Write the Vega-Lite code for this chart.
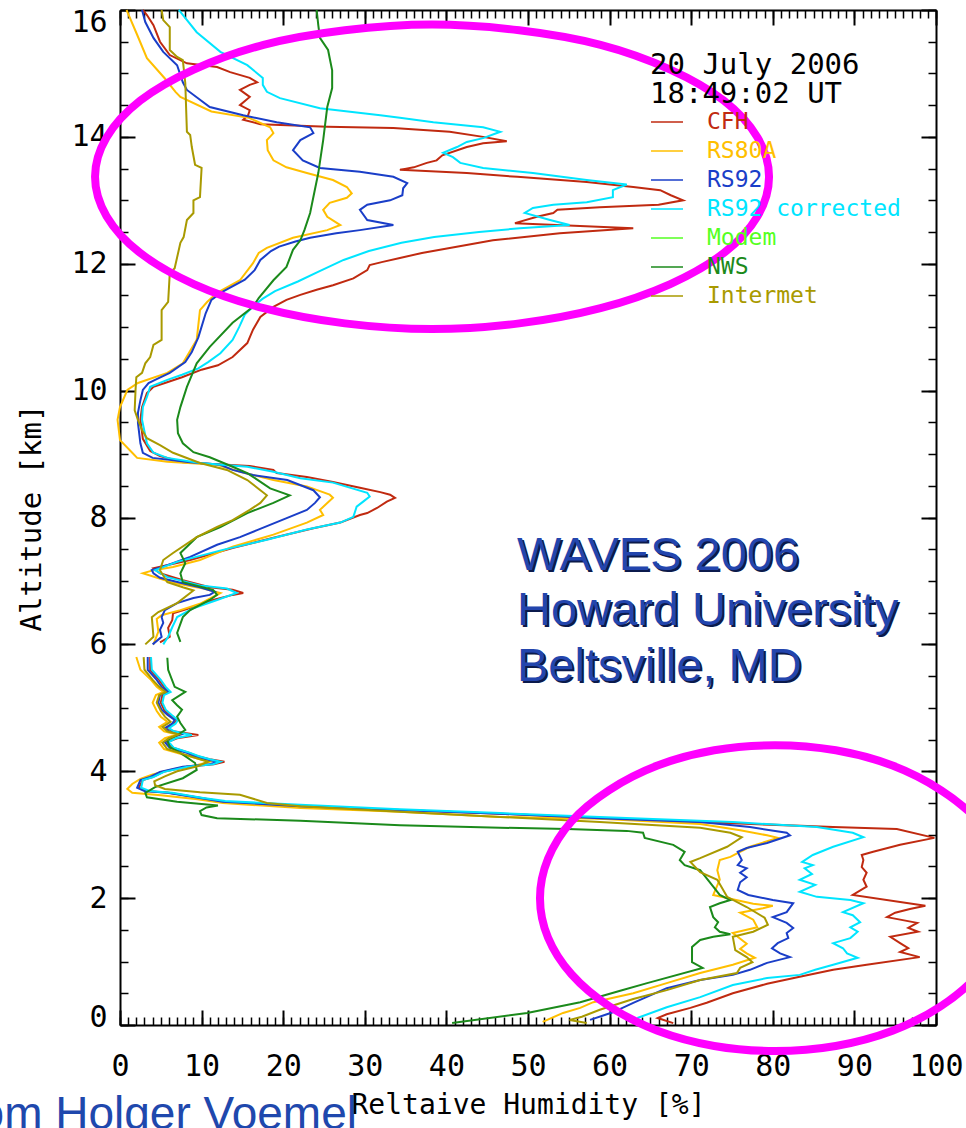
{
  "$schema": "https://vega.github.io/schema/vega-lite/v6.json",
  "width": 816,
  "height": 1015,
  "autosize": {"type": "none"},
  "padding": {"left": 120, "top": 10, "right": 30, "bottom": 103},
  "background": "white",
  "config": {"view": {"stroke": null}, "axis": {"grid": false}},
  "datasets": {
    "profiles": [
      {"s":"CFH","g":1,"z":0.03,"h":67.8},{"s":"CFH","g":1,"z":0.11,"h":65.9},{"s":"CFH","g":1,"z":0.17,"h":67.0},{"s":"CFH","g":1,"z":0.27,"h":69.9},{"s":"CFH","g":1,"z":0.35,"h":71.9},{"s":"CFH","g":1,"z":0.50,"h":75.1},{"s":"CFH","g":1,"z":0.65,"h":79.3},{"s":"CFH","g":1,"z":0.76,"h":83.3},{"s":"CFH","g":1,"z":0.87,"h":87.4},{"s":"CFH","g":1,"z":0.95,"h":91.5},{"s":"CFH","g":1,"z":1.07,"h":98.0},{"s":"CFH","g":1,"z":1.15,"h":95.6},{"s":"CFH","g":1,"z":1.21,"h":96.6},{"s":"CFH","g":1,"z":1.29,"h":95.6},{"s":"CFH","g":1,"z":1.39,"h":94.4},{"s":"CFH","g":1,"z":1.47,"h":97.8},{"s":"CFH","g":1,"z":1.53,"h":96.6},{"s":"CFH","g":1,"z":1.61,"h":97.7},{"s":"CFH","g":1,"z":1.70,"h":94.0},{"s":"CFH","g":1,"z":1.77,"h":95.0},{"s":"CFH","g":1,"z":1.83,"h":96.8},{"s":"CFH","g":1,"z":1.88,"h":98.7},{"s":"CFH","g":1,"z":2.05,"h":89.8},{"s":"CFH","g":1,"z":2.18,"h":91.5},{"s":"CFH","g":1,"z":2.29,"h":91.1},{"s":"CFH","g":1,"z":2.40,"h":91.5},{"s":"CFH","g":1,"z":2.49,"h":90.9},{"s":"CFH","g":1,"z":2.60,"h":91.1},{"s":"CFH","g":1,"z":2.68,"h":90.9},{"s":"CFH","g":1,"z":2.73,"h":92.3},{"s":"CFH","g":1,"z":2.84,"h":95.6},{"s":"CFH","g":1,"z":2.95,"h":99.8},{"s":"CFH","g":1,"z":3.09,"h":95.2},{"s":"CFH","g":1,"z":3.12,"h":87.4},{"s":"CFH","g":1,"z":3.18,"h":75.1},{"s":"CFH","g":1,"z":3.26,"h":58.8},{"s":"CFH","g":1,"z":3.33,"h":46.6},{"s":"CFH","g":1,"z":3.39,"h":34.3},{"s":"CFH","g":1,"z":3.45,"h":22.1},{"s":"CFH","g":1,"z":3.52,"h":12.7},{"s":"CFH","g":1,"z":3.58,"h":10.0},{"s":"CFH","g":1,"z":3.66,"h":6.0},{"s":"CFH","g":1,"z":3.69,"h":3.2},{"s":"CFH","g":1,"z":3.74,"h":2.3},{"s":"CFH","g":1,"z":3.86,"h":2.8},{"s":"CFH","g":1,"z":3.91,"h":4.0},{"s":"CFH","g":1,"z":3.99,"h":5.3},{"s":"CFH","g":1,"z":4.07,"h":8.2},{"s":"CFH","g":1,"z":4.11,"h":11.5},{"s":"CFH","g":1,"z":4.15,"h":12.8},{"s":"CFH","g":1,"z":4.19,"h":11.0},{"s":"CFH","g":1,"z":4.24,"h":9.4},{"s":"CFH","g":1,"z":4.29,"h":8.5},{"s":"CFH","g":1,"z":4.37,"h":6.5},{"s":"CFH","g":1,"z":4.46,"h":5.8},{"s":"CFH","g":1,"z":4.52,"h":7.0},{"s":"CFH","g":1,"z":4.57,"h":9.6},{"s":"CFH","g":1,"z":4.63,"h":6.5},{"s":"CFH","g":1,"z":4.68,"h":5.8},{"s":"CFH","g":1,"z":4.75,"h":6.6},{"s":"CFH","g":1,"z":4.81,"h":7.0},{"s":"CFH","g":1,"z":4.89,"h":6.1},{"s":"CFH","g":1,"z":4.97,"h":5.4},{"s":"CFH","g":1,"z":5.08,"h":5.0},{"s":"CFH","g":1,"z":5.20,"h":5.2},{"s":"CFH","g":1,"z":5.25,"h":6.0},{"s":"CFH","g":1,"z":5.33,"h":5.4},{"s":"CFH","g":1,"z":5.44,"h":4.8},{"s":"CFH","g":1,"z":5.60,"h":3.7},{"s":"CFH","g":1,"z":5.80,"h":3.7},
      {"s":"CFH","g":2,"z":6.03,"h":4.9},{"s":"CFH","g":2,"z":6.12,"h":6.1},{"s":"CFH","g":2,"z":6.26,"h":5.9},{"s":"CFH","g":2,"z":6.38,"h":6.4},{"s":"CFH","g":2,"z":6.49,"h":6.5},{"s":"CFH","g":2,"z":6.59,"h":9.0},{"s":"CFH","g":2,"z":6.70,"h":11.4},{"s":"CFH","g":2,"z":6.78,"h":13.8},{"s":"CFH","g":2,"z":6.81,"h":15.1},{"s":"CFH","g":2,"z":6.86,"h":13.8},{"s":"CFH","g":2,"z":6.90,"h":11.0},{"s":"CFH","g":2,"z":7.01,"h":7.7},{"s":"CFH","g":2,"z":7.12,"h":4.9},{"s":"CFH","g":2,"z":7.20,"h":4.1},{"s":"CFH","g":2,"z":7.33,"h":8.6},{"s":"CFH","g":2,"z":7.52,"h":13.8},{"s":"CFH","g":2,"z":7.68,"h":18.8},{"s":"CFH","g":2,"z":7.83,"h":23.7},{"s":"CFH","g":2,"z":7.92,"h":27.0},{"s":"CFH","g":2,"z":8.04,"h":29.4},{"s":"CFH","g":2,"z":8.07,"h":30.3},{"s":"CFH","g":2,"z":8.15,"h":31.5},{"s":"CFH","g":2,"z":8.25,"h":32.7},{"s":"CFH","g":2,"z":8.31,"h":33.7},{"s":"CFH","g":2,"z":8.36,"h":33.1},{"s":"CFH","g":2,"z":8.40,"h":31.9},{"s":"CFH","g":2,"z":8.47,"h":29.4},{"s":"CFH","g":2,"z":8.56,"h":26.1},{"s":"CFH","g":2,"z":8.64,"h":22.9},{"s":"CFH","g":2,"z":8.70,"h":19.2},{"s":"CFH","g":2,"z":8.75,"h":18.8},{"s":"CFH","g":2,"z":8.81,"h":15.9},{"s":"CFH","g":2,"z":8.84,"h":11.9},{"s":"CFH","g":2,"z":8.87,"h":7.7},{"s":"CFH","g":2,"z":8.97,"h":4.9},{"s":"CFH","g":2,"z":9.05,"h":3.7},{"s":"CFH","g":2,"z":9.24,"h":2.8},{"s":"CFH","g":2,"z":9.54,"h":2.5},{"s":"CFH","g":2,"z":9.74,"h":2.7},{"s":"CFH","g":2,"z":9.96,"h":3.3},{"s":"CFH","g":2,"z":10.06,"h":4.1},{"s":"CFH","g":2,"z":10.12,"h":5.5},{"s":"CFH","g":2,"z":10.21,"h":7.6},{"s":"CFH","g":2,"z":10.33,"h":10.0},{"s":"CFH","g":2,"z":10.40,"h":12.0},{"s":"CFH","g":2,"z":10.53,"h":13.8},{"s":"CFH","g":2,"z":10.75,"h":15.6},{"s":"CFH","g":2,"z":10.96,"h":16.3},{"s":"CFH","g":2,"z":11.16,"h":17.2},{"s":"CFH","g":2,"z":11.32,"h":18.8},{"s":"CFH","g":2,"z":11.43,"h":20.4},{"s":"CFH","g":2,"z":11.51,"h":22.1},{"s":"CFH","g":2,"z":11.59,"h":24.1},{"s":"CFH","g":2,"z":11.66,"h":26.1},{"s":"CFH","g":2,"z":11.77,"h":28.6},{"s":"CFH","g":2,"z":11.90,"h":30.3},{"s":"CFH","g":2,"z":11.98,"h":30.6},{"s":"CFH","g":2,"z":12.03,"h":32.2},{"s":"CFH","g":2,"z":12.09,"h":34.3},{"s":"CFH","g":2,"z":12.17,"h":37.0},{"s":"CFH","g":2,"z":12.37,"h":45.7},{"s":"CFH","g":2,"z":12.48,"h":53.9},{"s":"CFH","g":2,"z":12.56,"h":62.9},{"s":"CFH","g":2,"z":12.64,"h":48.4},{"s":"CFH","g":2,"z":12.74,"h":51.1},{"s":"CFH","g":2,"z":12.80,"h":53.1},{"s":"CFH","g":2,"z":12.85,"h":53.6},{"s":"CFH","g":2,"z":12.89,"h":58.8},{"s":"CFH","g":2,"z":12.93,"h":66.0},{"s":"CFH","g":2,"z":13.00,"h":69.0},{"s":"CFH","g":2,"z":13.08,"h":67.5},{"s":"CFH","g":2,"z":13.16,"h":66.2},{"s":"CFH","g":2,"z":13.21,"h":62.9},{"s":"CFH","g":2,"z":13.29,"h":57.2},{"s":"CFH","g":2,"z":13.37,"h":48.7},{"s":"CFH","g":2,"z":13.43,"h":42.5},{"s":"CFH","g":2,"z":13.48,"h":34.3},{"s":"CFH","g":2,"z":13.52,"h":36.0},{"s":"CFH","g":2,"z":13.59,"h":37.6},{"s":"CFH","g":2,"z":13.63,"h":38.8},{"s":"CFH","g":2,"z":13.71,"h":39.5},{"s":"CFH","g":2,"z":13.84,"h":42.5},{"s":"CFH","g":2,"z":13.90,"h":44.5},{"s":"CFH","g":2,"z":13.93,"h":47.4},{"s":"CFH","g":2,"z":14.00,"h":44.5},{"s":"CFH","g":2,"z":14.08,"h":40.4},{"s":"CFH","g":2,"z":14.14,"h":33.5},{"s":"CFH","g":2,"z":14.16,"h":25.4},{"s":"CFH","g":2,"z":14.20,"h":17.2},{"s":"CFH","g":2,"z":14.27,"h":15.1},{"s":"CFH","g":2,"z":14.34,"h":15.7},{"s":"CFH","g":2,"z":14.42,"h":15.9},{"s":"CFH","g":2,"z":14.50,"h":14.7},{"s":"CFH","g":2,"z":14.63,"h":15.9},{"s":"CFH","g":2,"z":14.74,"h":14.7},{"s":"CFH","g":2,"z":14.82,"h":15.9},{"s":"CFH","g":2,"z":14.86,"h":16.8},{"s":"CFH","g":2,"z":14.93,"h":15.9},{"s":"CFH","g":2,"z":15.02,"h":13.5},{"s":"CFH","g":2,"z":15.10,"h":11.9},{"s":"CFH","g":2,"z":15.16,"h":8.2},{"s":"CFH","g":2,"z":15.29,"h":6.1},{"s":"CFH","g":2,"z":15.50,"h":4.9},{"s":"CFH","g":2,"z":15.76,"h":4.1},{"s":"CFH","g":2,"z":15.92,"h":3.3},{"s":"CFH","g":2,"z":16.00,"h":2.8},

      {"s":"RS80A","g":1,"z":0.05,"h":51.8},{"s":"RS80A","g":1,"z":0.19,"h":54.3},{"s":"RS80A","g":1,"z":0.27,"h":56.4},{"s":"RS80A","g":1,"z":0.36,"h":58.0},{"s":"RS80A","g":1,"z":0.50,"h":62.9},{"s":"RS80A","g":1,"z":0.66,"h":67.0},{"s":"RS80A","g":1,"z":0.82,"h":71.1},{"s":"RS80A","g":1,"z":0.95,"h":75.1},{"s":"RS80A","g":1,"z":1.06,"h":77.8},{"s":"RS80A","g":1,"z":1.13,"h":76.8},{"s":"RS80A","g":1,"z":1.20,"h":76.0},{"s":"RS80A","g":1,"z":1.28,"h":76.8},{"s":"RS80A","g":1,"z":1.45,"h":75.1},{"s":"RS80A","g":1,"z":1.50,"h":76.8},{"s":"RS80A","g":1,"z":1.54,"h":78.1},{"s":"RS80A","g":1,"z":1.66,"h":77.6},{"s":"RS80A","g":1,"z":1.77,"h":76.0},{"s":"RS80A","g":1,"z":1.84,"h":78.8},{"s":"RS80A","g":1,"z":1.88,"h":80.0},{"s":"RS80A","g":1,"z":1.91,"h":77.6},{"s":"RS80A","g":1,"z":2.05,"h":72.7},{"s":"RS80A","g":1,"z":2.29,"h":73.5},{"s":"RS80A","g":1,"z":2.44,"h":73.2},{"s":"RS80A","g":1,"z":2.60,"h":73.5},{"s":"RS80A","g":1,"z":2.65,"h":74.8},{"s":"RS80A","g":1,"z":2.81,"h":77.2},{"s":"RS80A","g":1,"z":2.95,"h":80.6},{"s":"RS80A","g":1,"z":2.99,"h":79.3},{"s":"RS80A","g":1,"z":3.07,"h":76.0},{"s":"RS80A","g":1,"z":3.17,"h":71.1},{"s":"RS80A","g":1,"z":3.25,"h":58.8},{"s":"RS80A","g":1,"z":3.28,"h":46.6},{"s":"RS80A","g":1,"z":3.36,"h":34.3},{"s":"RS80A","g":1,"z":3.42,"h":22.1},{"s":"RS80A","g":1,"z":3.50,"h":12.6},{"s":"RS80A","g":1,"z":3.56,"h":9.5},{"s":"RS80A","g":1,"z":3.62,"h":5.0},{"s":"RS80A","g":1,"z":3.66,"h":1.5},{"s":"RS80A","g":1,"z":3.72,"h":0.9},{"s":"RS80A","g":1,"z":3.80,"h":1.5},{"s":"RS80A","g":1,"z":3.88,"h":2.5},{"s":"RS80A","g":1,"z":3.95,"h":4.0},{"s":"RS80A","g":1,"z":4.03,"h":6.5},{"s":"RS80A","g":1,"z":4.10,"h":9.5},{"s":"RS80A","g":1,"z":4.15,"h":11.0},{"s":"RS80A","g":1,"z":4.20,"h":9.5},{"s":"RS80A","g":1,"z":4.27,"h":7.5},{"s":"RS80A","g":1,"z":4.35,"h":5.4},{"s":"RS80A","g":1,"z":4.45,"h":4.8},{"s":"RS80A","g":1,"z":4.52,"h":5.5},{"s":"RS80A","g":1,"z":4.58,"h":7.0},{"s":"RS80A","g":1,"z":4.63,"h":5.4},{"s":"RS80A","g":1,"z":4.70,"h":4.8},{"s":"RS80A","g":1,"z":4.78,"h":5.8},{"s":"RS80A","g":1,"z":4.86,"h":5.0},{"s":"RS80A","g":1,"z":4.95,"h":4.5},{"s":"RS80A","g":1,"z":5.08,"h":4.0},{"s":"RS80A","g":1,"z":5.20,"h":4.4},{"s":"RS80A","g":1,"z":5.25,"h":5.3},{"s":"RS80A","g":1,"z":5.33,"h":4.5},{"s":"RS80A","g":1,"z":5.44,"h":3.8},{"s":"RS80A","g":1,"z":5.60,"h":2.5},{"s":"RS80A","g":1,"z":5.80,"h":2.0},
      {"s":"RS80A","g":2,"z":6.00,"h":4.1},{"s":"RS80A","g":2,"z":6.20,"h":4.7},{"s":"RS80A","g":2,"z":6.40,"h":4.5},{"s":"RS80A","g":2,"z":6.46,"h":5.1},{"s":"RS80A","g":2,"z":6.54,"h":7.4},{"s":"RS80A","g":2,"z":6.64,"h":9.8},{"s":"RS80A","g":2,"z":6.81,"h":12.3},{"s":"RS80A","g":2,"z":6.88,"h":10.2},{"s":"RS80A","g":2,"z":6.97,"h":6.5},{"s":"RS80A","g":2,"z":7.12,"h":2.8},{"s":"RS80A","g":2,"z":7.17,"h":4.1},{"s":"RS80A","g":2,"z":7.22,"h":6.5},{"s":"RS80A","g":2,"z":7.33,"h":9.8},{"s":"RS80A","g":2,"z":7.54,"h":13.8},{"s":"RS80A","g":2,"z":7.73,"h":18.8},{"s":"RS80A","g":2,"z":7.92,"h":22.9},{"s":"RS80A","g":2,"z":8.04,"h":24.9},{"s":"RS80A","g":2,"z":8.12,"h":24.5},{"s":"RS80A","g":2,"z":8.23,"h":25.4},{"s":"RS80A","g":2,"z":8.31,"h":26.1},{"s":"RS80A","g":2,"z":8.36,"h":25.7},{"s":"RS80A","g":2,"z":8.49,"h":22.9},{"s":"RS80A","g":2,"z":8.59,"h":18.8},{"s":"RS80A","g":2,"z":8.72,"h":14.7},{"s":"RS80A","g":2,"z":8.83,"h":11.9},{"s":"RS80A","g":2,"z":8.88,"h":5.8},{"s":"RS80A","g":2,"z":8.94,"h":2.1},{"s":"RS80A","g":2,"z":9.02,"h":1.5},{"s":"RS80A","g":2,"z":9.22,"h":0.0},{"s":"RS80A","g":2,"z":9.54,"h":-0.3},{"s":"RS80A","g":2,"z":9.74,"h":0.0},{"s":"RS80A","g":2,"z":10.01,"h":0.9},{"s":"RS80A","g":2,"z":10.12,"h":2.2},{"s":"RS80A","g":2,"z":10.28,"h":5.8},{"s":"RS80A","g":2,"z":10.43,"h":7.7},{"s":"RS80A","g":2,"z":10.80,"h":9.4},{"s":"RS80A","g":2,"z":11.27,"h":9.8},{"s":"RS80A","g":2,"z":11.40,"h":10.7},{"s":"RS80A","g":2,"z":11.54,"h":11.9},{"s":"RS80A","g":2,"z":11.74,"h":14.7},{"s":"RS80A","g":2,"z":12.01,"h":16.3},{"s":"RS80A","g":2,"z":12.17,"h":17.0},{"s":"RS80A","g":2,"z":12.25,"h":18.0},{"s":"RS80A","g":2,"z":12.41,"h":21.2},{"s":"RS80A","g":2,"z":12.53,"h":25.4},{"s":"RS80A","g":2,"z":12.61,"h":27.0},{"s":"RS80A","g":2,"z":12.74,"h":25.4},{"s":"RS80A","g":2,"z":12.85,"h":24.9},{"s":"RS80A","g":2,"z":12.96,"h":25.7},{"s":"RS80A","g":2,"z":13.04,"h":27.8},{"s":"RS80A","g":2,"z":13.11,"h":28.4},{"s":"RS80A","g":2,"z":13.21,"h":27.8},{"s":"RS80A","g":2,"z":13.32,"h":26.1},{"s":"RS80A","g":2,"z":13.43,"h":22.9},{"s":"RS80A","g":2,"z":13.52,"h":20.4},{"s":"RS80A","g":2,"z":13.63,"h":18.8},{"s":"RS80A","g":2,"z":13.79,"h":18.1},{"s":"RS80A","g":2,"z":13.95,"h":18.0},{"s":"RS80A","g":2,"z":14.06,"h":18.8},{"s":"RS80A","g":2,"z":14.15,"h":18.4},{"s":"RS80A","g":2,"z":14.30,"h":15.8},{"s":"RS80A","g":2,"z":14.40,"h":11.2},{"s":"RS80A","g":2,"z":14.63,"h":7.4},{"s":"RS80A","g":2,"z":14.71,"h":6.8},{"s":"RS80A","g":2,"z":14.92,"h":5.5},{"s":"RS80A","g":2,"z":15.24,"h":3.3},{"s":"RS80A","g":2,"z":15.61,"h":2.1},{"s":"RS80A","g":2,"z":15.97,"h":0.9},{"s":"RS80A","g":2,"z":16.00,"h":0.8},

      {"s":"RS92","g":1,"z":0.08,"h":57.6},{"s":"RS92","g":1,"z":0.20,"h":60.4},{"s":"RS92","g":1,"z":0.35,"h":62.9},{"s":"RS92","g":1,"z":0.58,"h":67.0},{"s":"RS92","g":1,"z":0.71,"h":71.1},{"s":"RS92","g":1,"z":0.79,"h":75.1},{"s":"RS92","g":1,"z":0.87,"h":77.2},{"s":"RS92","g":1,"z":0.98,"h":79.3},{"s":"RS92","g":1,"z":1.07,"h":82.1},{"s":"RS92","g":1,"z":1.13,"h":80.9},{"s":"RS92","g":1,"z":1.21,"h":79.9},{"s":"RS92","g":1,"z":1.29,"h":80.6},{"s":"RS92","g":1,"z":1.37,"h":81.9},{"s":"RS92","g":1,"z":1.45,"h":81.7},{"s":"RS92","g":1,"z":1.53,"h":82.5},{"s":"RS92","g":1,"z":1.61,"h":81.7},{"s":"RS92","g":1,"z":1.70,"h":80.0},{"s":"RS92","g":1,"z":1.78,"h":81.7},{"s":"RS92","g":1,"z":1.92,"h":82.5},{"s":"RS92","g":1,"z":1.97,"h":80.0},{"s":"RS92","g":1,"z":2.05,"h":77.0},{"s":"RS92","g":1,"z":2.13,"h":75.7},{"s":"RS92","g":1,"z":2.25,"h":76.0},{"s":"RS92","g":1,"z":2.33,"h":76.8},{"s":"RS92","g":1,"z":2.40,"h":76.0},{"s":"RS92","g":1,"z":2.47,"h":76.8},{"s":"RS92","g":1,"z":2.52,"h":75.7},{"s":"RS92","g":1,"z":2.60,"h":76.2},{"s":"RS92","g":1,"z":2.73,"h":75.7},{"s":"RS92","g":1,"z":2.79,"h":76.8},{"s":"RS92","g":1,"z":2.87,"h":79.3},{"s":"RS92","g":1,"z":2.99,"h":82.1},{"s":"RS92","g":1,"z":3.03,"h":81.7},{"s":"RS92","g":1,"z":3.12,"h":77.2},{"s":"RS92","g":1,"z":3.20,"h":71.1},{"s":"RS92","g":1,"z":3.26,"h":58.8},{"s":"RS92","g":1,"z":3.33,"h":46.6},{"s":"RS92","g":1,"z":3.39,"h":34.3},{"s":"RS92","g":1,"z":3.45,"h":22.1},{"s":"RS92","g":1,"z":3.52,"h":12.6},{"s":"RS92","g":1,"z":3.58,"h":9.8},{"s":"RS92","g":1,"z":3.66,"h":5.8},{"s":"RS92","g":1,"z":3.69,"h":3.0},{"s":"RS92","g":1,"z":3.74,"h":2.1},{"s":"RS92","g":1,"z":3.86,"h":2.5},{"s":"RS92","g":1,"z":3.91,"h":3.7},{"s":"RS92","g":1,"z":3.99,"h":4.9},{"s":"RS92","g":1,"z":4.07,"h":7.7},{"s":"RS92","g":1,"z":4.11,"h":11.0},{"s":"RS92","g":1,"z":4.15,"h":12.0},{"s":"RS92","g":1,"z":4.19,"h":10.5},{"s":"RS92","g":1,"z":4.24,"h":9.0},{"s":"RS92","g":1,"z":4.29,"h":8.2},{"s":"RS92","g":1,"z":4.37,"h":6.1},{"s":"RS92","g":1,"z":4.46,"h":5.5},{"s":"RS92","g":1,"z":4.52,"h":6.1},{"s":"RS92","g":1,"z":4.58,"h":7.5},{"s":"RS92","g":1,"z":4.63,"h":6.0},{"s":"RS92","g":1,"z":4.68,"h":5.5},{"s":"RS92","g":1,"z":4.75,"h":6.4},{"s":"RS92","g":1,"z":4.81,"h":6.7},{"s":"RS92","g":1,"z":4.89,"h":5.8},{"s":"RS92","g":1,"z":4.97,"h":5.1},{"s":"RS92","g":1,"z":5.08,"h":4.7},{"s":"RS92","g":1,"z":5.20,"h":4.9},{"s":"RS92","g":1,"z":5.25,"h":5.9},{"s":"RS92","g":1,"z":5.33,"h":5.1},{"s":"RS92","g":1,"z":5.44,"h":4.5},{"s":"RS92","g":1,"z":5.60,"h":3.4},{"s":"RS92","g":1,"z":5.80,"h":3.4},
      {"s":"RS92","g":2,"z":6.00,"h":4.0},{"s":"RS92","g":2,"z":6.12,"h":5.1},{"s":"RS92","g":2,"z":6.23,"h":4.9},{"s":"RS92","g":2,"z":6.34,"h":5.3},{"s":"RS92","g":2,"z":6.43,"h":5.1},{"s":"RS92","g":2,"z":6.54,"h":5.5},{"s":"RS92","g":2,"z":6.65,"h":7.0},{"s":"RS92","g":2,"z":6.73,"h":9.0},{"s":"RS92","g":2,"z":6.78,"h":11.0},{"s":"RS92","g":2,"z":6.83,"h":11.6},{"s":"RS92","g":2,"z":6.90,"h":9.8},{"s":"RS92","g":2,"z":6.97,"h":7.4},{"s":"RS92","g":2,"z":7.05,"h":4.9},{"s":"RS92","g":2,"z":7.12,"h":4.1},{"s":"RS92","g":2,"z":7.17,"h":3.9},{"s":"RS92","g":2,"z":7.25,"h":5.8},{"s":"RS92","g":2,"z":7.38,"h":8.6},{"s":"RS92","g":2,"z":7.57,"h":11.9},{"s":"RS92","g":2,"z":7.69,"h":14.7},{"s":"RS92","g":2,"z":7.80,"h":16.8},{"s":"RS92","g":2,"z":8.01,"h":20.8},{"s":"RS92","g":2,"z":8.12,"h":22.9},{"s":"RS92","g":2,"z":8.23,"h":23.9},{"s":"RS92","g":2,"z":8.32,"h":24.5},{"s":"RS92","g":2,"z":8.43,"h":23.7},{"s":"RS92","g":2,"z":8.59,"h":20.5},{"s":"RS92","g":2,"z":8.67,"h":16.3},{"s":"RS92","g":2,"z":8.75,"h":13.8},{"s":"RS92","g":2,"z":8.83,"h":12.3},{"s":"RS92","g":2,"z":8.87,"h":8.6},{"s":"RS92","g":2,"z":8.94,"h":4.0},{"s":"RS92","g":2,"z":9.02,"h":2.8},{"s":"RS92","g":2,"z":9.17,"h":2.5},{"s":"RS92","g":2,"z":9.49,"h":2.2},{"s":"RS92","g":2,"z":9.65,"h":2.2},{"s":"RS92","g":2,"z":9.85,"h":2.5},{"s":"RS92","g":2,"z":10.01,"h":2.8},{"s":"RS92","g":2,"z":10.12,"h":3.5},{"s":"RS92","g":2,"z":10.17,"h":4.3},{"s":"RS92","g":2,"z":10.28,"h":6.1},{"s":"RS92","g":2,"z":10.45,"h":8.0},{"s":"RS92","g":2,"z":10.61,"h":8.8},{"s":"RS92","g":2,"z":10.84,"h":9.6},{"s":"RS92","g":2,"z":11.22,"h":10.5},{"s":"RS92","g":2,"z":11.43,"h":11.2},{"s":"RS92","g":2,"z":11.57,"h":12.7},{"s":"RS92","g":2,"z":11.75,"h":15.3},{"s":"RS92","g":2,"z":11.90,"h":16.5},{"s":"RS92","g":2,"z":12.06,"h":17.2},{"s":"RS92","g":2,"z":12.20,"h":18.5},{"s":"RS92","g":2,"z":12.27,"h":19.5},{"s":"RS92","g":2,"z":12.35,"h":21.5},{"s":"RS92","g":2,"z":12.41,"h":23.3},{"s":"RS92","g":2,"z":12.48,"h":26.5},{"s":"RS92","g":2,"z":12.53,"h":29.4},{"s":"RS92","g":2,"z":12.61,"h":33.5},{"s":"RS92","g":2,"z":12.69,"h":30.3},{"s":"RS92","g":2,"z":12.85,"h":29.4},{"s":"RS92","g":2,"z":12.93,"h":30.3},{"s":"RS92","g":2,"z":13.00,"h":33.1},{"s":"RS92","g":2,"z":13.08,"h":34.6},{"s":"RS92","g":2,"z":13.19,"h":34.7},{"s":"RS92","g":2,"z":13.27,"h":35.2},{"s":"RS92","g":2,"z":13.37,"h":33.5},{"s":"RS92","g":2,"z":13.45,"h":29.4},{"s":"RS92","g":2,"z":13.51,"h":24.5},{"s":"RS92","g":2,"z":13.63,"h":22.4},{"s":"RS92","g":2,"z":13.79,"h":21.2},{"s":"RS92","g":2,"z":13.95,"h":22.1},{"s":"RS92","g":2,"z":14.06,"h":23.7},{"s":"RS92","g":2,"z":14.15,"h":23.3},{"s":"RS92","g":2,"z":14.23,"h":19.2},{"s":"RS92","g":2,"z":14.34,"h":15.1},{"s":"RS92","g":2,"z":14.47,"h":11.0},{"s":"RS92","g":2,"z":14.74,"h":8.2},{"s":"RS92","g":2,"z":14.86,"h":7.7},{"s":"RS92","g":2,"z":15.13,"h":7.0},{"s":"RS92","g":2,"z":15.34,"h":5.3},{"s":"RS92","g":2,"z":15.56,"h":4.1},{"s":"RS92","g":2,"z":15.81,"h":3.1},{"s":"RS92","g":2,"z":16.00,"h":2.7},

      {"s":"RS92 corrected","g":1,"z":0.11,"h":63.4},{"s":"RS92 corrected","g":1,"z":0.28,"h":67.0},{"s":"RS92 corrected","g":1,"z":0.44,"h":71.1},{"s":"RS92 corrected","g":1,"z":0.63,"h":75.1},{"s":"RS92 corrected","g":1,"z":0.74,"h":79.3},{"s":"RS92 corrected","g":1,"z":0.79,"h":83.3},{"s":"RS92 corrected","g":1,"z":0.87,"h":85.2},{"s":"RS92 corrected","g":1,"z":0.95,"h":87.4},{"s":"RS92 corrected","g":1,"z":1.06,"h":90.4},{"s":"RS92 corrected","g":1,"z":1.13,"h":89.1},{"s":"RS92 corrected","g":1,"z":1.21,"h":88.6},{"s":"RS92 corrected","g":1,"z":1.29,"h":87.4},{"s":"RS92 corrected","g":1,"z":1.37,"h":89.5},{"s":"RS92 corrected","g":1,"z":1.47,"h":90.4},{"s":"RS92 corrected","g":1,"z":1.54,"h":89.5},{"s":"RS92 corrected","g":1,"z":1.62,"h":90.7},{"s":"RS92 corrected","g":1,"z":1.73,"h":89.8},{"s":"RS92 corrected","g":1,"z":1.78,"h":88.6},{"s":"RS92 corrected","g":1,"z":1.92,"h":91.1},{"s":"RS92 corrected","g":1,"z":1.97,"h":89.5},{"s":"RS92 corrected","g":1,"z":2.02,"h":85.4},{"s":"RS92 corrected","g":1,"z":2.10,"h":83.3},{"s":"RS92 corrected","g":1,"z":2.21,"h":85.2},{"s":"RS92 corrected","g":1,"z":2.29,"h":83.3},{"s":"RS92 corrected","g":1,"z":2.38,"h":84.8},{"s":"RS92 corrected","g":1,"z":2.47,"h":83.9},{"s":"RS92 corrected","g":1,"z":2.52,"h":84.9},{"s":"RS92 corrected","g":1,"z":2.57,"h":83.6},{"s":"RS92 corrected","g":1,"z":2.68,"h":84.9},{"s":"RS92 corrected","g":1,"z":2.81,"h":87.4},{"s":"RS92 corrected","g":1,"z":2.96,"h":91.1},{"s":"RS92 corrected","g":1,"z":3.03,"h":89.8},{"s":"RS92 corrected","g":1,"z":3.12,"h":85.4},{"s":"RS92 corrected","g":1,"z":3.20,"h":75.1},{"s":"RS92 corrected","g":1,"z":3.28,"h":58.8},{"s":"RS92 corrected","g":1,"z":3.34,"h":46.6},{"s":"RS92 corrected","g":1,"z":3.40,"h":34.3},{"s":"RS92 corrected","g":1,"z":3.47,"h":22.1},{"s":"RS92 corrected","g":1,"z":3.53,"h":12.9},{"s":"RS92 corrected","g":1,"z":3.58,"h":10.2},{"s":"RS92 corrected","g":1,"z":3.66,"h":6.4},{"s":"RS92 corrected","g":1,"z":3.69,"h":3.6},{"s":"RS92 corrected","g":1,"z":3.74,"h":2.6},{"s":"RS92 corrected","g":1,"z":3.86,"h":2.8},{"s":"RS92 corrected","g":1,"z":3.91,"h":4.1},{"s":"RS92 corrected","g":1,"z":3.99,"h":5.4},{"s":"RS92 corrected","g":1,"z":4.07,"h":8.3},{"s":"RS92 corrected","g":1,"z":4.11,"h":11.4},{"s":"RS92 corrected","g":1,"z":4.15,"h":12.3},{"s":"RS92 corrected","g":1,"z":4.19,"h":11.0},{"s":"RS92 corrected","g":1,"z":4.24,"h":9.6},{"s":"RS92 corrected","g":1,"z":4.29,"h":8.6},{"s":"RS92 corrected","g":1,"z":4.37,"h":6.6},{"s":"RS92 corrected","g":1,"z":4.46,"h":6.0},{"s":"RS92 corrected","g":1,"z":4.52,"h":6.8},{"s":"RS92 corrected","g":1,"z":4.57,"h":8.8},{"s":"RS92 corrected","g":1,"z":4.63,"h":6.6},{"s":"RS92 corrected","g":1,"z":4.68,"h":6.0},{"s":"RS92 corrected","g":1,"z":4.75,"h":6.8},{"s":"RS92 corrected","g":1,"z":4.81,"h":7.1},{"s":"RS92 corrected","g":1,"z":4.89,"h":6.3},{"s":"RS92 corrected","g":1,"z":4.97,"h":5.6},{"s":"RS92 corrected","g":1,"z":5.08,"h":5.2},{"s":"RS92 corrected","g":1,"z":5.20,"h":5.4},{"s":"RS92 corrected","g":1,"z":5.25,"h":6.2},{"s":"RS92 corrected","g":1,"z":5.33,"h":5.6},{"s":"RS92 corrected","g":1,"z":5.44,"h":5.0},{"s":"RS92 corrected","g":1,"z":5.60,"h":3.9},{"s":"RS92 corrected","g":1,"z":5.80,"h":3.8},
      {"s":"RS92 corrected","g":2,"z":6.00,"h":5.3},{"s":"RS92 corrected","g":2,"z":6.12,"h":5.9},{"s":"RS92 corrected","g":2,"z":6.27,"h":6.4},{"s":"RS92 corrected","g":2,"z":6.43,"h":7.0},{"s":"RS92 corrected","g":2,"z":6.57,"h":9.0},{"s":"RS92 corrected","g":2,"z":6.70,"h":11.9},{"s":"RS92 corrected","g":2,"z":6.81,"h":14.3},{"s":"RS92 corrected","g":2,"z":6.88,"h":13.1},{"s":"RS92 corrected","g":2,"z":6.93,"h":9.8},{"s":"RS92 corrected","g":2,"z":7.06,"h":5.8},{"s":"RS92 corrected","g":2,"z":7.17,"h":4.3},{"s":"RS92 corrected","g":2,"z":7.30,"h":7.0},{"s":"RS92 corrected","g":2,"z":7.49,"h":12.6},{"s":"RS92 corrected","g":2,"z":7.65,"h":18.0},{"s":"RS92 corrected","g":2,"z":7.81,"h":22.9},{"s":"RS92 corrected","g":2,"z":7.92,"h":27.0},{"s":"RS92 corrected","g":2,"z":8.01,"h":28.6},{"s":"RS92 corrected","g":2,"z":8.17,"h":29.0},{"s":"RS92 corrected","g":2,"z":8.25,"h":29.8},{"s":"RS92 corrected","g":2,"z":8.33,"h":30.6},{"s":"RS92 corrected","g":2,"z":8.39,"h":30.3},{"s":"RS92 corrected","g":2,"z":8.55,"h":26.1},{"s":"RS92 corrected","g":2,"z":8.62,"h":22.1},{"s":"RS92 corrected","g":2,"z":8.72,"h":18.8},{"s":"RS92 corrected","g":2,"z":8.80,"h":15.6},{"s":"RS92 corrected","g":2,"z":8.86,"h":9.8},{"s":"RS92 corrected","g":2,"z":8.94,"h":5.8},{"s":"RS92 corrected","g":2,"z":9.02,"h":4.1},{"s":"RS92 corrected","g":2,"z":9.17,"h":3.3},{"s":"RS92 corrected","g":2,"z":9.54,"h":2.7},{"s":"RS92 corrected","g":2,"z":9.74,"h":2.8},{"s":"RS92 corrected","g":2,"z":9.90,"h":3.3},{"s":"RS92 corrected","g":2,"z":10.06,"h":3.7},{"s":"RS92 corrected","g":2,"z":10.17,"h":5.8},{"s":"RS92 corrected","g":2,"z":10.25,"h":7.6},{"s":"RS92 corrected","g":2,"z":10.35,"h":9.6},{"s":"RS92 corrected","g":2,"z":10.45,"h":10.8},{"s":"RS92 corrected","g":2,"z":10.59,"h":12.3},{"s":"RS92 corrected","g":2,"z":10.80,"h":13.8},{"s":"RS92 corrected","g":2,"z":11.00,"h":14.6},{"s":"RS92 corrected","g":2,"z":11.20,"h":15.3},{"s":"RS92 corrected","g":2,"z":11.35,"h":16.5},{"s":"RS92 corrected","g":2,"z":11.45,"h":17.5},{"s":"RS92 corrected","g":2,"z":11.57,"h":19.0},{"s":"RS92 corrected","g":2,"z":11.72,"h":21.8},{"s":"RS92 corrected","g":2,"z":11.88,"h":24.4},{"s":"RS92 corrected","g":2,"z":12.06,"h":27.4},{"s":"RS92 corrected","g":2,"z":12.20,"h":30.5},{"s":"RS92 corrected","g":2,"z":12.33,"h":34.5},{"s":"RS92 corrected","g":2,"z":12.42,"h":38.5},{"s":"RS92 corrected","g":2,"z":12.50,"h":44.0},{"s":"RS92 corrected","g":2,"z":12.56,"h":49.0},{"s":"RS92 corrected","g":2,"z":12.61,"h":55.1},{"s":"RS92 corrected","g":2,"z":12.69,"h":52.7},{"s":"RS92 corrected","g":2,"z":12.80,"h":49.6},{"s":"RS92 corrected","g":2,"z":12.88,"h":50.6},{"s":"RS92 corrected","g":2,"z":12.93,"h":53.1},{"s":"RS92 corrected","g":2,"z":12.97,"h":57.2},{"s":"RS92 corrected","g":2,"z":13.05,"h":60.4},{"s":"RS92 corrected","g":2,"z":13.16,"h":60.4},{"s":"RS92 corrected","g":2,"z":13.25,"h":62.1},{"s":"RS92 corrected","g":2,"z":13.32,"h":57.2},{"s":"RS92 corrected","g":2,"z":13.43,"h":50.6},{"s":"RS92 corrected","g":2,"z":13.51,"h":44.5},{"s":"RS92 corrected","g":2,"z":13.59,"h":41.7},{"s":"RS92 corrected","g":2,"z":13.68,"h":40.8},{"s":"RS92 corrected","g":2,"z":13.75,"h":39.6},{"s":"RS92 corrected","g":2,"z":13.84,"h":41.3},{"s":"RS92 corrected","g":2,"z":13.92,"h":42.5},{"s":"RS92 corrected","g":2,"z":13.98,"h":44.5},{"s":"RS92 corrected","g":2,"z":14.08,"h":46.6},{"s":"RS92 corrected","g":2,"z":14.15,"h":44.5},{"s":"RS92 corrected","g":2,"z":14.23,"h":38.4},{"s":"RS92 corrected","g":2,"z":14.30,"h":34.3},{"s":"RS92 corrected","g":2,"z":14.34,"h":31.9},{"s":"RS92 corrected","g":2,"z":14.45,"h":24.5},{"s":"RS92 corrected","g":2,"z":14.61,"h":19.6},{"s":"RS92 corrected","g":2,"z":14.71,"h":18.0},{"s":"RS92 corrected","g":2,"z":14.82,"h":17.5},{"s":"RS92 corrected","g":2,"z":14.93,"h":17.5},{"s":"RS92 corrected","g":2,"z":15.13,"h":15.6},{"s":"RS92 corrected","g":2,"z":15.34,"h":12.3},{"s":"RS92 corrected","g":2,"z":15.65,"h":9.4},{"s":"RS92 corrected","g":2,"z":15.97,"h":7.4},{"s":"RS92 corrected","g":2,"z":16.00,"h":7.2},

      {"s":"NWS","g":1,"z":0.03,"h":40.7},{"s":"NWS","g":1,"z":0.19,"h":49.9},{"s":"NWS","g":1,"z":0.36,"h":56.4},{"s":"NWS","g":1,"z":0.54,"h":61.3},{"s":"NWS","g":1,"z":0.66,"h":64.6},{"s":"NWS","g":1,"z":0.90,"h":71.4},{"s":"NWS","g":1,"z":0.99,"h":70.1},{"s":"NWS","g":1,"z":1.23,"h":70.1},{"s":"NWS","g":1,"z":1.34,"h":71.1},{"s":"NWS","g":1,"z":1.39,"h":72.7},{"s":"NWS","g":1,"z":1.43,"h":74.8},{"s":"NWS","g":1,"z":1.47,"h":73.5},{"s":"NWS","g":1,"z":1.54,"h":72.9},{"s":"NWS","g":1,"z":1.62,"h":73.3},{"s":"NWS","g":1,"z":1.70,"h":72.7},{"s":"NWS","g":1,"z":1.86,"h":72.3},{"s":"NWS","g":1,"z":1.92,"h":73.5},{"s":"NWS","g":1,"z":1.97,"h":74.8},{"s":"NWS","g":1,"z":2.05,"h":73.5},{"s":"NWS","g":1,"z":2.18,"h":72.7},{"s":"NWS","g":1,"z":2.44,"h":71.1},{"s":"NWS","g":1,"z":2.52,"h":69.2},{"s":"NWS","g":1,"z":2.60,"h":68.6},{"s":"NWS","g":1,"z":2.73,"h":69.2},{"s":"NWS","g":1,"z":2.84,"h":67.8},{"s":"NWS","g":1,"z":2.95,"h":64.3},{"s":"NWS","g":1,"z":3.03,"h":64.1},{"s":"NWS","g":1,"z":3.06,"h":62.1},{"s":"NWS","g":1,"z":3.09,"h":54.8},{"s":"NWS","g":1,"z":3.11,"h":46.6},{"s":"NWS","g":1,"z":3.15,"h":34.3},{"s":"NWS","g":1,"z":3.22,"h":22.1},{"s":"NWS","g":1,"z":3.26,"h":11.9},{"s":"NWS","g":1,"z":3.31,"h":10.0},{"s":"NWS","g":1,"z":3.37,"h":9.8},{"s":"NWS","g":1,"z":3.43,"h":10.6},{"s":"NWS","g":1,"z":3.46,"h":12.0},{"s":"NWS","g":1,"z":3.52,"h":7.0},{"s":"NWS","g":1,"z":3.59,"h":3.3},{"s":"NWS","g":1,"z":3.66,"h":3.1},{"s":"NWS","g":1,"z":3.75,"h":4.3},{"s":"NWS","g":1,"z":3.89,"h":7.7},{"s":"NWS","g":1,"z":4.02,"h":9.4},{"s":"NWS","g":1,"z":4.13,"h":9.2},{"s":"NWS","g":1,"z":4.29,"h":7.4},{"s":"NWS","g":1,"z":4.38,"h":6.1},{"s":"NWS","g":1,"z":4.49,"h":5.8},{"s":"NWS","g":1,"z":4.57,"h":7.0},{"s":"NWS","g":1,"z":4.65,"h":8.0},{"s":"NWS","g":1,"z":4.76,"h":7.4},{"s":"NWS","g":1,"z":4.86,"h":7.0},{"s":"NWS","g":1,"z":4.97,"h":7.6},{"s":"NWS","g":1,"z":5.04,"h":7.0},{"s":"NWS","g":1,"z":5.12,"h":6.4},{"s":"NWS","g":1,"z":5.25,"h":8.0},{"s":"NWS","g":1,"z":5.33,"h":6.7},{"s":"NWS","g":1,"z":5.60,"h":5.9},{"s":"NWS","g":1,"z":5.79,"h":5.8},
      {"s":"NWS","g":2,"z":6.04,"h":7.4},{"s":"NWS","g":2,"z":6.18,"h":7.0},{"s":"NWS","g":2,"z":6.43,"h":7.7},{"s":"NWS","g":2,"z":6.54,"h":8.6},{"s":"NWS","g":2,"z":6.70,"h":11.0},{"s":"NWS","g":2,"z":6.78,"h":11.9},{"s":"NWS","g":2,"z":6.86,"h":11.4},{"s":"NWS","g":2,"z":6.98,"h":7.7},{"s":"NWS","g":2,"z":7.12,"h":7.4},{"s":"NWS","g":2,"z":7.28,"h":8.0},{"s":"NWS","g":2,"z":7.44,"h":7.4},{"s":"NWS","g":2,"z":7.69,"h":9.4},{"s":"NWS","g":2,"z":7.85,"h":12.3},{"s":"NWS","g":2,"z":8.07,"h":15.6},{"s":"NWS","g":2,"z":8.23,"h":18.8},{"s":"NWS","g":2,"z":8.35,"h":20.8},{"s":"NWS","g":2,"z":8.46,"h":18.4},{"s":"NWS","g":2,"z":8.70,"h":15.6},{"s":"NWS","g":2,"z":8.80,"h":13.8},{"s":"NWS","g":2,"z":8.95,"h":11.0},{"s":"NWS","g":2,"z":9.03,"h":9.0},{"s":"NWS","g":2,"z":9.17,"h":7.7},{"s":"NWS","g":2,"z":9.33,"h":7.1},{"s":"NWS","g":2,"z":9.54,"h":7.0},{"s":"NWS","g":2,"z":9.74,"h":7.4},{"s":"NWS","g":2,"z":10.06,"h":8.2},{"s":"NWS","g":2,"z":10.43,"h":9.4},{"s":"NWS","g":2,"z":10.69,"h":11.0},{"s":"NWS","g":2,"z":11.07,"h":13.8},{"s":"NWS","g":2,"z":11.32,"h":16.3},{"s":"NWS","g":2,"z":11.46,"h":17.0},{"s":"NWS","g":2,"z":11.74,"h":18.8},{"s":"NWS","g":2,"z":11.95,"h":20.4},{"s":"NWS","g":2,"z":12.22,"h":21.2},{"s":"NWS","g":2,"z":12.37,"h":22.1},{"s":"NWS","g":2,"z":12.53,"h":22.6},{"s":"NWS","g":2,"z":12.80,"h":23.3},{"s":"NWS","g":2,"z":13.43,"h":24.3},{"s":"NWS","g":2,"z":13.95,"h":24.9},{"s":"NWS","g":2,"z":14.47,"h":25.4},{"s":"NWS","g":2,"z":14.77,"h":26.0},{"s":"NWS","g":2,"z":15.05,"h":26.0},{"s":"NWS","g":2,"z":15.24,"h":25.7},{"s":"NWS","g":2,"z":15.37,"h":25.5},{"s":"NWS","g":2,"z":15.56,"h":24.5},{"s":"NWS","g":2,"z":15.76,"h":24.3},{"s":"NWS","g":2,"z":16.00,"h":24.1},

      {"s":"Intermet","g":1,"z":0.03,"h":57.2},{"s":"Intermet","g":1,"z":0.08,"h":55.1},{"s":"Intermet","g":1,"z":0.13,"h":56.6},{"s":"Intermet","g":1,"z":0.24,"h":58.8},{"s":"Intermet","g":1,"z":0.41,"h":62.9},{"s":"Intermet","g":1,"z":0.55,"h":67.0},{"s":"Intermet","g":1,"z":0.71,"h":71.1},{"s":"Intermet","g":1,"z":0.82,"h":75.6},{"s":"Intermet","g":1,"z":0.90,"h":76.0},{"s":"Intermet","g":1,"z":0.99,"h":77.5},{"s":"Intermet","g":1,"z":1.07,"h":76.8},{"s":"Intermet","g":1,"z":1.18,"h":75.4},{"s":"Intermet","g":1,"z":1.39,"h":75.1},{"s":"Intermet","g":1,"z":1.47,"h":77.6},{"s":"Intermet","g":1,"z":1.58,"h":79.4},{"s":"Intermet","g":1,"z":1.69,"h":79.0},{"s":"Intermet","g":1,"z":1.86,"h":76.8},{"s":"Intermet","g":1,"z":2.02,"h":74.4},{"s":"Intermet","g":1,"z":2.29,"h":73.2},{"s":"Intermet","g":1,"z":2.41,"h":71.1},{"s":"Intermet","g":1,"z":2.57,"h":69.9},{"s":"Intermet","g":1,"z":2.63,"h":71.1},{"s":"Intermet","g":1,"z":2.81,"h":74.4},{"s":"Intermet","g":1,"z":2.96,"h":76.2},{"s":"Intermet","g":1,"z":3.03,"h":74.8},{"s":"Intermet","g":1,"z":3.11,"h":71.1},{"s":"Intermet","g":1,"z":3.20,"h":58.8},{"s":"Intermet","g":1,"z":3.28,"h":46.6},{"s":"Intermet","g":1,"z":3.36,"h":34.3},{"s":"Intermet","g":1,"z":3.45,"h":22.1},{"s":"Intermet","g":1,"z":3.50,"h":18.0},{"s":"Intermet","g":1,"z":3.63,"h":14.7},{"s":"Intermet","g":1,"z":3.67,"h":9.8},{"s":"Intermet","g":1,"z":3.72,"h":5.5},{"s":"Intermet","g":1,"z":3.78,"h":4.3},{"s":"Intermet","g":1,"z":3.84,"h":4.2},{"s":"Intermet","g":1,"z":3.92,"h":5.5},{"s":"Intermet","g":1,"z":4.00,"h":7.0},{"s":"Intermet","g":1,"z":4.08,"h":9.5},{"s":"Intermet","g":1,"z":4.15,"h":10.8},{"s":"Intermet","g":1,"z":4.20,"h":9.5},{"s":"Intermet","g":1,"z":4.27,"h":7.8},{"s":"Intermet","g":1,"z":4.35,"h":5.8},{"s":"Intermet","g":1,"z":4.45,"h":5.2},{"s":"Intermet","g":1,"z":4.52,"h":6.0},{"s":"Intermet","g":1,"z":4.58,"h":7.2},{"s":"Intermet","g":1,"z":4.63,"h":5.8},{"s":"Intermet","g":1,"z":4.70,"h":5.2},{"s":"Intermet","g":1,"z":4.78,"h":6.2},{"s":"Intermet","g":1,"z":4.86,"h":5.5},{"s":"Intermet","g":1,"z":4.95,"h":5.0},{"s":"Intermet","g":1,"z":5.08,"h":4.5},{"s":"Intermet","g":1,"z":5.20,"h":4.8},{"s":"Intermet","g":1,"z":5.25,"h":5.6},{"s":"Intermet","g":1,"z":5.33,"h":4.8},{"s":"Intermet","g":1,"z":5.44,"h":4.0},{"s":"Intermet","g":1,"z":5.60,"h":3.0},{"s":"Intermet","g":1,"z":5.80,"h":2.9},
      {"s":"Intermet","g":2,"z":6.00,"h":3.1},{"s":"Intermet","g":2,"z":6.12,"h":4.1},{"s":"Intermet","g":2,"z":6.43,"h":3.9},{"s":"Intermet","g":2,"z":6.51,"h":4.7},{"s":"Intermet","g":2,"z":6.65,"h":7.0},{"s":"Intermet","g":2,"z":6.85,"h":9.0},{"s":"Intermet","g":2,"z":6.90,"h":7.7},{"s":"Intermet","g":2,"z":6.98,"h":5.8},{"s":"Intermet","g":2,"z":7.17,"h":4.9},{"s":"Intermet","g":2,"z":7.33,"h":5.3},{"s":"Intermet","g":2,"z":7.44,"h":6.5},{"s":"Intermet","g":2,"z":7.69,"h":9.4},{"s":"Intermet","g":2,"z":7.85,"h":11.9},{"s":"Intermet","g":2,"z":7.96,"h":13.8},{"s":"Intermet","g":2,"z":8.12,"h":15.9},{"s":"Intermet","g":2,"z":8.23,"h":17.2},{"s":"Intermet","g":2,"z":8.35,"h":18.0},{"s":"Intermet","g":2,"z":8.43,"h":17.2},{"s":"Intermet","g":2,"z":8.59,"h":15.6},{"s":"Intermet","g":2,"z":8.75,"h":13.1},{"s":"Intermet","g":2,"z":8.86,"h":9.8},{"s":"Intermet","g":2,"z":9.02,"h":6.5},{"s":"Intermet","g":2,"z":9.14,"h":4.9},{"s":"Intermet","g":2,"z":9.25,"h":3.3},{"s":"Intermet","g":2,"z":9.38,"h":2.7},{"s":"Intermet","g":2,"z":9.54,"h":2.2},{"s":"Intermet","g":2,"z":9.69,"h":1.8},{"s":"Intermet","g":2,"z":10.00,"h":1.9},{"s":"Intermet","g":2,"z":10.21,"h":2.0},{"s":"Intermet","g":2,"z":10.28,"h":2.7},{"s":"Intermet","g":2,"z":10.43,"h":3.1},{"s":"Intermet","g":2,"z":10.53,"h":3.7},{"s":"Intermet","g":2,"z":10.72,"h":4.1},{"s":"Intermet","g":2,"z":10.80,"h":5.1},{"s":"Intermet","g":2,"z":11.27,"h":5.1},{"s":"Intermet","g":2,"z":11.40,"h":5.9},{"s":"Intermet","g":2,"z":11.85,"h":6.1},{"s":"Intermet","g":2,"z":11.93,"h":6.7},{"s":"Intermet","g":2,"z":12.33,"h":7.4},{"s":"Intermet","g":2,"z":12.42,"h":7.8},{"s":"Intermet","g":2,"z":12.69,"h":8.2},{"s":"Intermet","g":2,"z":12.80,"h":9.0},{"s":"Intermet","g":2,"z":13.00,"h":9.0},{"s":"Intermet","g":2,"z":13.05,"h":9.8},{"s":"Intermet","g":2,"z":13.51,"h":10.0},{"s":"Intermet","g":2,"z":13.56,"h":9.2},{"s":"Intermet","g":2,"z":13.84,"h":8.8},{"s":"Intermet","g":2,"z":14.03,"h":8.6},{"s":"Intermet","g":2,"z":14.08,"h":8.2},{"s":"Intermet","g":2,"z":14.85,"h":8.0},{"s":"Intermet","g":2,"z":15.21,"h":7.7},{"s":"Intermet","g":2,"z":15.26,"h":7.0},{"s":"Intermet","g":2,"z":15.37,"h":6.1},{"s":"Intermet","g":2,"z":15.73,"h":6.1},{"s":"Intermet","g":2,"z":15.84,"h":5.3},{"s":"Intermet","g":2,"z":16.00,"h":5.1}
    ],
    "rings": [
      {"e":"upper","k":0,"x":79.54,"y":13.37},{"e":"upper","k":1,"x":78.13,"y":13.99},{"e":"upper","k":2,"x":74.01,"y":14.57},{"e":"upper","k":3,"x":67.44,"y":15.06},{"e":"upper","k":4,"x":58.89,"y":15.45},{"e":"upper","k":5,"x":48.93,"y":15.68},{"e":"upper","k":6,"x":38.24,"y":15.77},{"e":"upper","k":7,"x":27.55,"y":15.68},{"e":"upper","k":8,"x":17.59,"y":15.45},{"e":"upper","k":9,"x":9.04,"y":15.06},{"e":"upper","k":10,"x":2.47,"y":14.57},{"e":"upper","k":11,"x":-1.65,"y":13.99},{"e":"upper","k":12,"x":-3.06,"y":13.37},{"e":"upper","k":13,"x":-1.65,"y":12.75},{"e":"upper","k":14,"x":2.47,"y":12.17},{"e":"upper","k":15,"x":9.04,"y":11.68},{"e":"upper","k":16,"x":17.59,"y":11.30},{"e":"upper","k":17,"x":27.55,"y":11.06},{"e":"upper","k":18,"x":38.24,"y":10.97},{"e":"upper","k":19,"x":48.93,"y":11.06},{"e":"upper","k":20,"x":58.89,"y":11.30},{"e":"upper","k":21,"x":67.44,"y":11.68},{"e":"upper","k":22,"x":74.01,"y":12.17},{"e":"upper","k":23,"x":78.13,"y":12.75},
      {"e":"lower","k":0,"x":109.07,"y":2.00},{"e":"lower","k":1,"x":108.09,"y":2.62},{"e":"lower","k":2,"x":105.21,"y":3.21},{"e":"lower","k":3,"x":100.63,"y":3.70},{"e":"lower","k":4,"x":94.67,"y":4.09},{"e":"lower","k":5,"x":87.72,"y":4.33},{"e":"lower","k":6,"x":80.27,"y":4.41},{"e":"lower","k":7,"x":72.82,"y":4.33},{"e":"lower","k":8,"x":65.87,"y":4.09},{"e":"lower","k":9,"x":59.91,"y":3.70},{"e":"lower","k":10,"x":55.33,"y":3.21},{"e":"lower","k":11,"x":52.45,"y":2.62},{"e":"lower","k":12,"x":51.47,"y":2.00},{"e":"lower","k":13,"x":52.45,"y":1.38},{"e":"lower","k":14,"x":55.33,"y":0.80},{"e":"lower","k":15,"x":59.91,"y":0.30},{"e":"lower","k":16,"x":65.87,"y":-0.09},{"e":"lower","k":17,"x":72.82,"y":-0.33},{"e":"lower","k":18,"x":80.27,"y":-0.41},{"e":"lower","k":19,"x":87.72,"y":-0.33},{"e":"lower","k":20,"x":94.67,"y":-0.09},{"e":"lower","k":21,"x":100.63,"y":0.30},{"e":"lower","k":22,"x":105.21,"y":0.80},{"e":"lower","k":23,"x":108.09,"y":1.38}
    ],
    "site": [
      {"t":"WAVES 2006","x":48.65,"y":7.18},
      {"t":"Howard University","x":48.65,"y":6.305},
      {"t":"Beltsville, MD","x":48.65,"y":5.42}
    ],
    "credit": [
      {"t":"from Holger Voemel","x":29.04,"y":-1.64}
    ]
  },
  "resolve": {"axis": {"x": "independent", "y": "independent"}},
  "layer": [
    {
      "data": {"name": "profiles"},
      "mark": {"type": "line", "strokeWidth": 2, "clip": false},
      "encoding": {
        "x": {
          "field": "h", "type": "quantitative",
          "scale": {"domain": [0, 100], "nice": false, "zero": false},
          "axis": {
            "orient": "bottom", "values": [0,10,20,30,40,50,60,70,80,90,100],
            "ticks": false, "domain": true, "domainColor": "black", "domainWidth": 2,
            "labelFont": "DejaVu Sans Mono", "labelFontSize": 30, "labelColor": "black",
            "labelPadding": 26, "labelFlush": false, "labelOverlap": false,
            "title": "Reltaive Humidity [%]", "titleFont": "DejaVu Sans Mono", "titleFontSize": 28,
            "titleFontWeight": "normal", "titleColor": "black", "titlePadding": 10
          }
        },
        "y": {
          "field": "z", "type": "quantitative",
          "scale": {"domain": [0, 16], "nice": false, "zero": false},
          "axis": {
            "orient": "left", "values": [0,2,4,6,8,10,12,14,16],
            "ticks": false, "domain": true, "domainColor": "black", "domainWidth": 2,
            "labelFont": "DejaVu Sans Mono", "labelFontSize": 30, "labelColor": "black",
            "labelPadding": 13, "labelFlush": false, "labelOverlap": false,
            "labelOffset": {"condition": [{"test": "datum.value === 16", "value": 12}, {"test": "datum.value === 0", "value": -8}], "value": 0},
            "title": "Altitude [km]", "titleFont": "DejaVu Sans Mono", "titleFontSize": 29,
            "titleFontWeight": "normal", "titleColor": "black", "titlePadding": 24
          }
        },
        "color": {
          "field": "s", "type": "nominal",
          "scale": {
            "domain": ["CFH", "RS80A", "RS92", "RS92 corrected", "Modem", "NWS", "Intermet"],
            "range": ["#c02a10", "#ffbf00", "#1a3ec8", "#00e5ff", "#55ff22", "#1b8a1b", "#a99a00"]
          },
          "legend": {
            "orient": "none", "legendX": 530, "legendY": 41, "padding": 0,
            "title": ["20 July 2006", "18:49:02 UT"],
            "titleFont": "DejaVu Sans Mono", "titleFontSize": 29, "titleFontWeight": "normal",
            "titleColor": "black", "titleLineHeight": 29, "titlePadding": -4, "titleAnchor": "start",
            "titleLimit": 500,
            "symbolType": "stroke", "symbolSize": 1024, "symbolStrokeWidth": 1.5,
            "labelFont": "DejaVu Sans Mono", "labelFontSize": 23, "labelOffset": 23, "labelLimit": 400,
            "rowPadding": 0,
            "encode": {"labels": {"update": {"fill": {"scale": "color", "field": "value"}}}}
          }
        },
        "detail": {"field": "g", "type": "nominal"},
        "order": {"field": "z", "type": "quantitative"}
      }
    },
    {
      "data": {"name": "rings"},
      "mark": {"type": "line", "color": "#ff00ff", "strokeWidth": 8, "interpolate": "cardinal-closed", "clip": false},
      "encoding": {
        "x": {
          "field": "x", "type": "quantitative",
          "scale": {"domain": [0, 100], "nice": false, "zero": false},
          "axis": {"orient": "bottom", "tickCount": 10, "labels": false, "domain": false, "ticks": true, "tickSize": -15, "tickWidth": 2, "tickColor": "black", "title": null}
        },
        "y": {
          "field": "y", "type": "quantitative",
          "scale": {"domain": [0, 16], "nice": false, "zero": false},
          "axis": {"orient": "left", "tickCount": 8, "labels": false, "domain": false, "ticks": true, "tickSize": -15, "tickWidth": 2, "tickColor": "black", "title": null}
        },
        "detail": {"field": "e", "type": "nominal"},
        "order": {"field": "k", "type": "quantitative"}
      }
    },
    {
      "data": {"name": "site"},
      "mark": {"type": "text", "font": "Liberation Sans", "fontSize": 47, "align": "left", "baseline": "alphabetic", "color": "#0b1a4c", "dx": 2, "dy": 2},
      "encoding": {
        "x": {
          "field": "x", "type": "quantitative",
          "scale": {"domain": [0, 100], "nice": false, "zero": false},
          "axis": {"orient": "bottom", "tickCount": 100, "labels": false, "domain": false, "ticks": true, "tickSize": -8, "tickWidth": 1.5, "tickColor": "black", "title": null}
        },
        "y": {
          "field": "y", "type": "quantitative",
          "scale": {"domain": [0, 16], "nice": false, "zero": false},
          "axis": {"orient": "left", "tickCount": 32, "labels": false, "domain": false, "ticks": true, "tickSize": -8, "tickWidth": 1.5, "tickColor": "black", "title": null}
        },
        "text": {"field": "t"}
      }
    },
    {
      "data": {"name": "site"},
      "mark": {"type": "text", "font": "Liberation Sans", "fontSize": 47, "align": "left", "baseline": "alphabetic", "color": "#2345ad"},
      "encoding": {
        "x": {
          "field": "x", "type": "quantitative",
          "scale": {"domain": [0, 100], "nice": false, "zero": false},
          "axis": {"orient": "top", "tickCount": 10, "labels": false, "domain": true, "domainColor": "black", "domainWidth": 2, "ticks": true, "tickSize": -15, "tickWidth": 2, "tickColor": "black", "title": null}
        },
        "y": {
          "field": "y", "type": "quantitative",
          "scale": {"domain": [0, 16], "nice": false, "zero": false},
          "axis": {"orient": "right", "tickCount": 8, "labels": false, "domain": true, "domainColor": "black", "domainWidth": 2, "ticks": true, "tickSize": -15, "tickWidth": 2, "tickColor": "black", "title": null}
        },
        "text": {"field": "t"}
      }
    },
    {
      "data": {"name": "credit"},
      "mark": {"type": "text", "font": "Liberation Sans", "fontSize": 46, "align": "right", "baseline": "alphabetic", "color": "#1f48ad"},
      "encoding": {
        "x": {
          "field": "x", "type": "quantitative",
          "scale": {"domain": [0, 100], "nice": false, "zero": false},
          "axis": {"orient": "top", "tickCount": 100, "labels": false, "domain": false, "ticks": true, "tickSize": -8, "tickWidth": 1.5, "tickColor": "black", "title": null}
        },
        "y": {
          "field": "y", "type": "quantitative",
          "scale": {"domain": [0, 16], "nice": false, "zero": false},
          "axis": {"orient": "right", "tickCount": 32, "labels": false, "domain": false, "ticks": true, "tickSize": -8, "tickWidth": 1.5, "tickColor": "black", "title": null}
        },
        "text": {"field": "t"}
      }
    }
  ]
}
